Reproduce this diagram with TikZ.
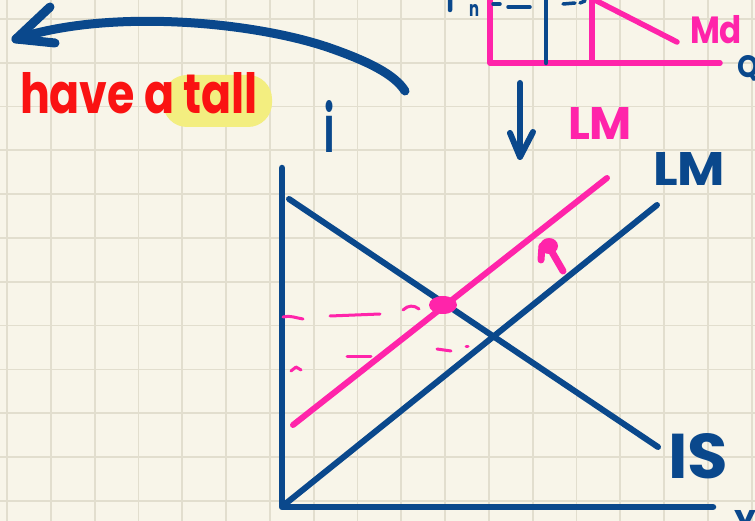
\documentclass[tikz,border=0pt]{standalone}
\usepackage{fontspec}
\usepackage{graphicx}
\newfontfamily\handfont{Poppins}
\usetikzlibrary{arrows.meta,positioning}
\definecolor{paper}{RGB}{248,245,233}
\definecolor{gridline}{RGB}{226,222,206}
\definecolor{inkblue}{RGB}{10,72,140}
\definecolor{inkpink}{RGB}{255,36,170}
\definecolor{inkred}{RGB}{250,18,18}
\definecolor{marker}{RGB}{243,238,128}
\newcommand{\hw}[3]{\resizebox{#1pt}{#2pt}{\handfont\bfseries #3}}

\begin{document}
\begin{tikzpicture}[x=1pt, y=-1pt,
    penw/.style={line width=#1, line cap=round, line join=round},
    bluepen/.style={penw=6pt, draw=inkblue},
    pinkpen/.style={penw=6pt, draw=inkpink},
    handtext/.style={inner sep=0pt, outer sep=0pt, anchor=north west}
]
\useasboundingbox (0,0) rectangle (755,521);
\fill[paper] (0,0) rectangle (755,521);
\clip (0,0) rectangle (755,521);
\foreach \gx in {0,...,17}
  \draw[gridline, line width=1.8pt] ({7+43.8*\gx},0) -- ++(0,521);
\foreach \gy in {0,...,11}
  \draw[gridline, line width=1.8pt] (0,{19+43.8*\gy}) -- ++(755,0);

\coordinate (tail) at (405,91);
\coordinate (tip) at (16,39);
\coordinate (barbup) at (50,7);
\coordinate (barbdown) at (55,43);
\draw[bluepen, penw=9pt] (tail) .. controls (395,75) and (370,62) .. (330,48)
  .. controls (255,22) and (110,8) .. (tip);
\draw[bluepen, penw=9pt] (barbup) -- (tip) -- (barbdown);

\fill[marker, rounded corners=24pt] (163,75) rectangle (272,127);
\node[handtext, text=inkred] (note) at (20,72) {\hw{238}{41}{have a tall}};

\node[handtext, text=inkblue] (rate) at (324,100) {\hw{10}{52}{i}};

\coordinate (mmorigin) at (490,63);
\draw[pinkpen, penw=5.5pt] (490,-8) -- (mmorigin) -- (720,63);
\draw[pinkpen, penw=5.5pt] (592,-8) -- (592,63);
\draw[pinkpen, penw=5.5pt] (589,-3) -- (677,42);
\draw[bluepen, penw=4.5pt] (546,-8) -- (546,63);
\draw[bluepen, penw=3.5pt] (493,4) -- (500,4);
\draw[bluepen, penw=3.5pt] (508,7) -- (530,7);
\draw[bluepen, penw=3.5pt] (563,4) -- (575,3);
\draw[bluepen, penw=3.5pt] (580,3) -- (585,1);
\draw[bluepen, penw=4.5pt] (450,10) -- (450,-2) -- (456,-4);
\node[handtext, text=inkblue] (sub) at (469,5) {\hw{10}{12}{n}};
\node[handtext, text=inkpink] (md) at (690,15) {\hw{52}{28}{Md}};
\node[handtext, text=inkblue] (qlabel) at (737,56) {\hw{22}{22}{Q}};

\coordinate (downtop) at (520,83);
\coordinate (downtip) at (520,157);
\draw[bluepen] (downtop) -- (downtip);
\draw[bluepen] (510,133) -- (downtip) -- (533,132);

\node[handtext, text=inkpink] (lmnew) at (568,108) {\hw{64}{32}{LM}};
\node[handtext, text=inkblue] (lmold) at (653,152) {\hw{72}{33}{LM}};
\node[handtext, text=inkblue] (islabel) at (668,433) {\hw{60}{45}{IS}};
\node[handtext, text=inkblue] (ylabel) at (734,510) {\hw{22}{24}{Y}};

\coordinate (origin) at (282,507);
\coordinate (ytop) at (282,168);
\coordinate (xend) at (713,507);
\coordinate (is1) at (289,199);
\coordinate (is2) at (658,447);
\coordinate (lm1) at (284,505);
\coordinate (lm2) at (657,205);
\coordinate (lmp1) at (293,425);
\coordinate (lmp2) at (607,178);
\coordinate (eq) at (443,305);

\draw[bluepen, penw=6.5pt] (ytop) -- (origin) -- (xend);
\draw[bluepen] (is1) -- (is2);
\draw[bluepen] (lm1) -- (lm2);
\draw[pinkpen] (lmp1) -- (lmp2);
\fill[inkpink] (eq) ellipse (14 and 9);

\draw[pinkpen, penw=3pt] (283,317) .. controls (290,315) and (296,318) .. (303,319);
\draw[pinkpen, penw=3pt] (330,316) -- (380,314);
\draw[pinkpen, penw=3pt] (403,310) .. controls (408,305) and (414,305) .. (419,309);
\draw[pinkpen, penw=3pt] (347,356) -- (371,356);
\draw[pinkpen, penw=3pt] (291,371) -- (296,367) -- (301,370);
\draw[pinkpen, penw=3pt] (437,349) -- (451,351);
\draw[pinkpen, penw=3pt] (466,346) -- (468,346);

\draw[pinkpen, penw=7pt] (541,260) -- (542,246);
\fill[inkpink] (549,246) ellipse (9 and 8);
\draw[pinkpen, penw=7pt] (552,252) -- (563,271);
\end{tikzpicture}
\end{document}
